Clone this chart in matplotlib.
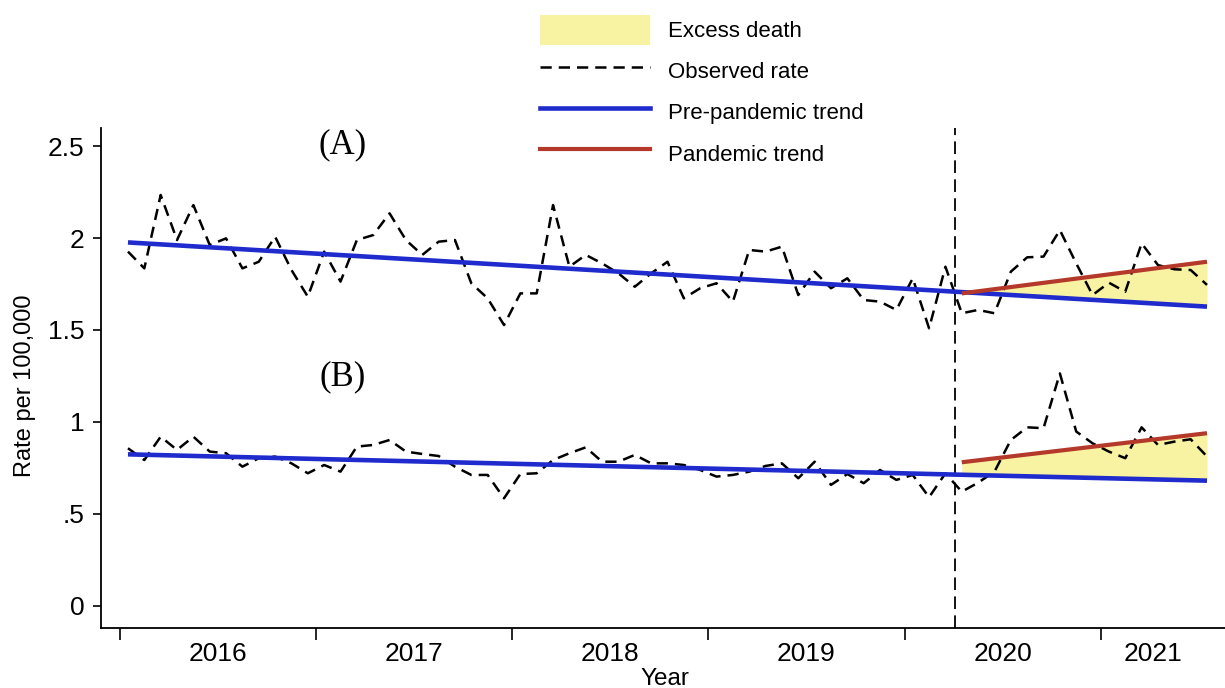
import numpy as np
import matplotlib
matplotlib.use('Agg')
import matplotlib.pyplot as plt
from matplotlib.patches import Patch
from matplotlib.lines import Line2D

# ---- data (monthly index: 0 = Jan 2016 ... 66 = Jul 2021) ----
months = np.arange(67)
observed_A = [1.926, 1.835, 2.234, 1.989, 2.179, 1.962, 1.998, 1.835, 1.871, 2.007,
              1.826, 1.681, 1.926, 1.763, 1.989, 2.016, 2.134, 1.989, 1.908, 1.980,
              1.989, 1.754, 1.672, 1.527, 1.699, 1.699, 2.179, 1.844, 1.908, 1.862,
              1.808, 1.735, 1.808, 1.871, 1.672, 1.727, 1.754, 1.654, 1.935, 1.926,
              1.953, 1.690, 1.817, 1.727, 1.781, 1.663, 1.654, 1.609, 1.781, 1.509,
              1.844, 1.591, 1.609, 1.591, 1.817, 1.895, 1.899, 2.043, 1.862, 1.690,
              1.757, 1.708, 1.971, 1.853, 1.830, 1.826, 1.745]
observed_B = [0.857, 0.793, 0.920, 0.848, 0.920, 0.839, 0.830, 0.757, 0.803, 0.812,
              0.775, 0.721, 0.766, 0.730, 0.866, 0.875, 0.902, 0.839, 0.826, 0.815,
              0.757, 0.712, 0.712, 0.585, 0.717, 0.721, 0.793, 0.830, 0.862, 0.784,
              0.784, 0.821, 0.775, 0.775, 0.766, 0.739, 0.703, 0.712, 0.730, 0.761,
              0.775, 0.694, 0.784, 0.658, 0.717, 0.667, 0.739, 0.685, 0.712, 0.591,
              0.721, 0.621, 0.670, 0.730, 0.902, 0.971, 0.966, 1.264, 0.948, 0.884,
              0.839, 0.803, 0.971, 0.875, 0.893, 0.906, 0.812]

pre_months = [0, 51, 66]
pre_trend_A = [1.976, 1.706, 1.627]
pre_trend_B = [0.824, 0.713, 0.681]
pan_months = [51, 66]
pan_trend_A = [1.699, 1.871]
pan_trend_B = [0.781, 0.939]

interruption = 50.6
year_ticks = [-0.5, 11.5, 23.5, 35.5, 47.5, 59.5]
year_label_pos = [5.5, 17.5, 29.5, 41.5, 53.5, 62.7]
year_labels = ['2016', '2017', '2018', '2019', '2020', '2021']
ytick_vals = [0, 0.5, 1, 1.5, 2, 2.5]
ytick_labels = ['0', '.5', '1', '1.5', '2', '2.5']

# ---- style ----
YELLOW = '#f8f3a2'
BLUE = '#1f2bcc'
RED = '#b5392b'
SANS = ['Liberation Sans', 'DejaVu Sans']
SERIF = ['Liberation Serif', 'DejaVu Serif']
plt.rcParams['font.family'] = SANS

fig = plt.figure(figsize=(12.25, 6.88), dpi=100)
ax = fig.add_axes([101 / 1225, 1 - 628 / 688, 1 - 101 / 1225, 500 / 688])

for pre, pan in ((pre_trend_A, pan_trend_A), (pre_trend_B, pan_trend_B)):
    ax.fill_between(pan_months, pre[1:], pan, color=YELLOW, lw=0, zorder=1)

obs_kw = dict(color='black', lw=1.8, dashes=(4.5, 2.8), zorder=3)
ax.plot(months, observed_A, **obs_kw)
ax.plot(months, observed_B, **obs_kw)
ax.plot(pre_months, pre_trend_A, color=BLUE, lw=3.3, zorder=4, solid_capstyle='butt')
ax.plot(pre_months, pre_trend_B, color=BLUE, lw=3.3, zorder=4, solid_capstyle='butt')
ax.plot(pan_months, pan_trend_A, color=RED, lw=3.0, zorder=5, solid_capstyle='butt')
ax.plot(pan_months, pan_trend_B, color=RED, lw=3.0, zorder=5, solid_capstyle='butt')

ax.axvline(interruption, color='black', lw=1.3, dashes=(7, 3.5), zorder=2)

ax.text(13.15, 2.505, '(A)', family=SERIF, fontsize=25, ha='center', va='center')
ax.text(13.15, 1.245, '(B)', family=SERIF, fontsize=25, ha='center', va='center')

ax.set_xlim(-1.65, 67.1)
ax.set_ylim(-0.12, 2.598)

ax.set_xticks(year_ticks)
ax.set_xticklabels([])
ax.set_xticks(year_label_pos, minor=True)
ax.set_xticklabels(year_labels, minor=True)
ax.tick_params(axis='x', which='major', length=8.5, width=1.2, direction='out')
ax.tick_params(axis='x', which='minor', length=0, pad=10, labelsize=19)
ax.set_yticks(ytick_vals)
ax.set_yticklabels(ytick_labels)
ax.tick_params(axis='y', length=6, width=1.2, pad=6, labelsize=19)

for s in ('top', 'right'):
    ax.spines[s].set_visible(False)
for s in ('left', 'bottom'):
    ax.spines[s].set_linewidth(1.3)

ax.set_ylabel('Rate per 100,000', fontsize=17)
ax.yaxis.set_label_coords(-0.058, 0.485)
ax.set_xlabel('Year', fontsize=17.5)
ax.xaxis.set_label_coords(0.502, -0.08)

handles = [Patch(facecolor=YELLOW, edgecolor='none'),
           Line2D([], [], color='black', lw=1.8, dashes=(4.5, 2.8)),
           Line2D([], [], color=BLUE, lw=3.3),
           Line2D([], [], color=RED, lw=3.0)]
labels = ['Excess death', 'Observed rate', 'Pre-pandemic trend', 'Pandemic trend']
fig.legend(handles, labels, loc='upper left', bbox_to_anchor=(540 / 1225, 1 - 15 / 688),
           frameon=False, fontsize=16, borderpad=0, borderaxespad=0,
           handlelength=4.95, handleheight=1.7, handletextpad=0.8, labelspacing=0.5)

fig.savefig('out.png', dpi=100)
